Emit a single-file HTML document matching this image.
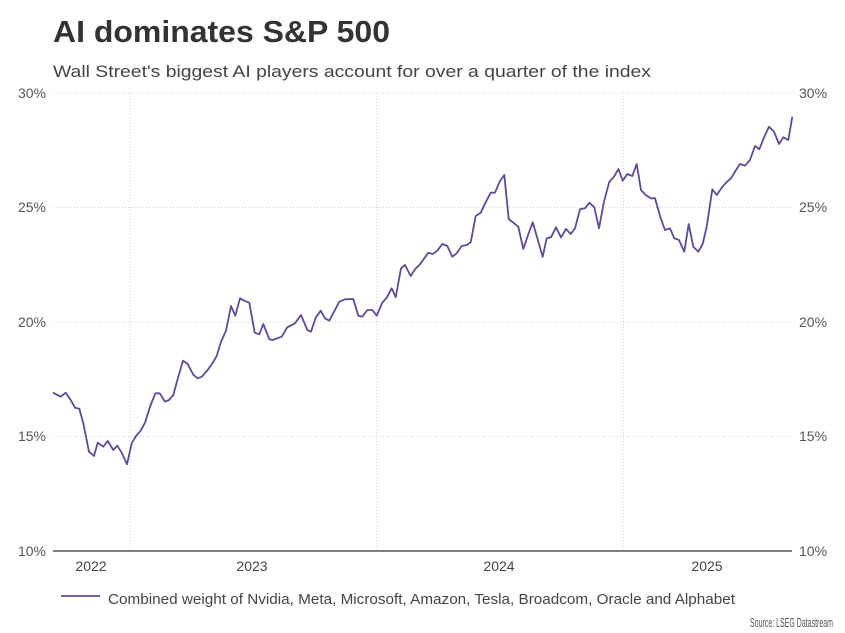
<!DOCTYPE html>
<html>
<head>
<meta charset="utf-8">
<style>
  html,body{margin:0;padding:0;background:#fff;}
  svg{display:block;}
  text{font-family:"Liberation Sans",Arial,sans-serif;}
</style>
</head>
<body>
<svg width="845" height="633" viewBox="0 0 845 633" xmlns="http://www.w3.org/2000/svg">
  <rect width="845" height="633" fill="#fff"/>
  <text x="53" y="42" font-size="31" font-weight="bold" fill="#333" textLength="337" lengthAdjust="spacingAndGlyphs">AI dominates S&amp;P 500</text>
  <text x="53" y="77" font-size="16.5" fill="#444" textLength="598" lengthAdjust="spacingAndGlyphs">Wall Street's biggest AI players account for over a quarter of the index</text>

  <!-- horizontal gridlines -->
  <g stroke="#d4d4d4" stroke-width="1" stroke-dasharray="1,2">
    <line x1="53" y1="93" x2="792" y2="93"/>
    <line x1="53" y1="207.5" x2="792" y2="207.5"/>
    <line x1="53" y1="322" x2="792" y2="322"/>
    <line x1="53" y1="436.5" x2="792" y2="436.5"/>
    <line x1="130" y1="93" x2="130" y2="551"/>
    <line x1="376.5" y1="93" x2="376.5" y2="551"/>
    <line x1="623.5" y1="93" x2="623.5" y2="551"/>
  </g>
  <line x1="53" y1="551" x2="792" y2="551" stroke="#555" stroke-width="1.5"/>

  <!-- left labels -->
  <g font-size="14" fill="#555" text-anchor="end">
    <text x="46" y="98">30%</text>
    <text x="46" y="212">25%</text>
    <text x="46" y="327">20%</text>
    <text x="46" y="441">15%</text>
    <text x="46" y="556">10%</text>
  </g>
  <g font-size="14" fill="#555">
    <text x="799" y="98">30%</text>
    <text x="799" y="212">25%</text>
    <text x="799" y="327">20%</text>
    <text x="799" y="441">15%</text>
    <text x="799" y="556">10%</text>
  </g>
  <g font-size="14" fill="#444" text-anchor="middle">
    <text x="91" y="571">2022</text>
    <text x="252" y="571">2023</text>
    <text x="499" y="571">2024</text>
    <text x="707" y="571">2025</text>
  </g>

  <polyline fill="none" stroke="#5e4b94" stroke-width="1.8" stroke-linejoin="round" points="53,392.7 60.7,396.7 65.7,392.7 70.3,399.3 75,407.7 79.3,408.7 83.3,423.3 89,451.7 94,456 97.7,442.7 103.3,446.7 107.7,441 113.3,450 117.3,445.7 121.7,452.7 127,464.3 131.7,443.3 136,436 140.7,430.7 145,422.7 150.3,406 155.3,393.3 159.7,393.3 165,401.7 169,400 173.3,395 178.3,376.7 183,360.7 187.7,364 193.3,374.7 197.7,378.3 201.7,376.7 207.7,370 212.7,362.7 216.7,356 221,341.7 226,330.7 231,306 235.3,315.7 240,298.3 244.3,300.7 249.3,302.7 254.7,332.7 259.3,334.3 263.3,324 269.3,339.3 272.7,340 281.7,336.7 287.3,327.3 295,323.3 301,315 307.3,330 311,331.7 315.7,317.7 320.7,310.7 325,318.3 329.3,320.7 339.3,301.7 345,299.3 353.3,299 358.3,315.7 362.3,316.7 367.3,310 372.3,310 376.7,315.7 382.3,302.7 386.7,297.7 391.7,288.3 395.7,297.3 401,268.3 405,265 410.7,276 415,269.3 420,264.3 428.3,252.7 432.7,254 437.3,250.7 442.3,244 447.3,246 452.3,256.7 456.7,253.3 461.7,246 466.7,245 470.7,242.3 475.7,216 480.7,212.7 486,201.7 490.7,192.7 495,192.7 499.3,182.3 504.3,175 508.7,219 513.3,222.7 518.3,226.7 523.3,249 527.7,236 532.7,222.3 542.7,256.7 546.7,238.3 551,237.3 556,227.3 561,237.3 566,229 570.7,234 575,228.3 580,209.3 585,208.3 589.3,202.7 594.3,207.3 599,228.3 604,201.7 609.3,181.7 614,176.7 618.5,169 622.7,180.7 627.3,174 632.3,176 636.7,164 641,190 645.7,195 650.7,198.3 655,198.3 660.7,218.3 665,230 670,228.3 674.3,238.3 679,240 684.3,251.7 688.7,224 693.3,246.7 698.3,251.7 702.7,244 706.7,226.7 712.3,189.3 716.7,195 721.7,187.7 726,182.7 731,178.3 736,170 740,164 745,165.7 750,160 755,146 759.3,149.3 764.3,136.7 769,126.7 774,131.7 779,144 783.3,137.3 788.3,140 792.3,116.7"/>

  <!-- legend -->
  <line x1="61" y1="596" x2="100" y2="596" stroke="#5e4b94" stroke-width="1.8"/>
  <text x="108" y="604" font-size="15" fill="#444" textLength="627" lengthAdjust="spacingAndGlyphs">Combined weight of Nvidia, Meta, Microsoft, Amazon, Tesla, Broadcom, Oracle and Alphabet</text>
  <text x="833" y="627" font-size="12.5" fill="#555" text-anchor="end" textLength="83" lengthAdjust="spacingAndGlyphs">Source: LSEG Datastream</text>
</svg>
</body>
</html>
